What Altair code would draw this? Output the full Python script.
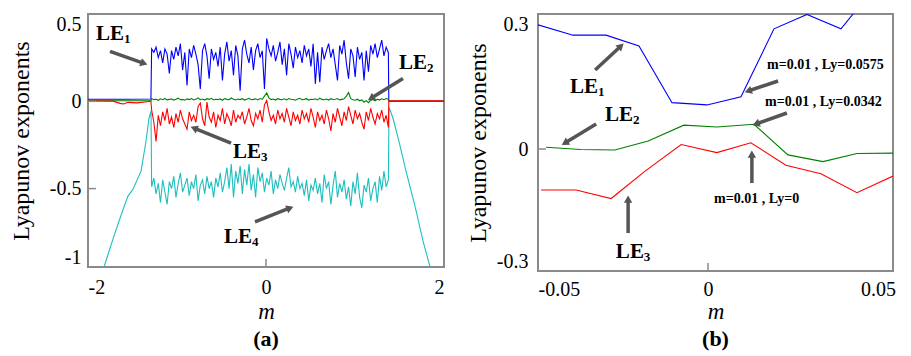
import math
import altair as alt
import numpy as np
import pandas as pd

FONT = "Liberation Serif, Times New Roman, serif"
ARROW = "#555555"
FRAME = "#8a8a8a"

# ------------------------------------------------------------------
# Panel (a): Lyapunov exponents vs m in [-2, 2]
# ------------------------------------------------------------------
CHAOS_START, CHAOS_END = -1.285, 1.375

le1_left_m = [-2.0, -1.6, -1.293]
le1_left_v = [0.012, 0.012, 0.013]
le1_chaos = [
    0.30, 0.28, 0.31, 0.25, 0.29, 0.22, 0.30, 0.27, 0.16, 0.29,
    0.24, 0.31, 0.26, 0.33, 0.18, 0.28, 0.09, 0.30, 0.25, 0.32,
    0.27, 0.21, 0.07, 0.29, 0.33, 0.26, 0.13, 0.30, 0.24, 0.28,
    0.20, 0.31, 0.12, 0.27, 0.34, 0.23, 0.29, 0.15, 0.32, 0.26,
    0.06, 0.30, 0.35, 0.27, 0.22, 0.31, 0.18, 0.29, 0.33, 0.25,
    0.29, 0.07, 0.36, 0.30, 0.26, 0.32, 0.23, 0.28, 0.34, 0.21,
    0.30, 0.15, 0.33, 0.27, 0.19, 0.31, 0.25, 0.29, 0.22, 0.32,
    0.26, 0.30, 0.20, 0.33, 0.10, 0.28, 0.11, 0.31, 0.24, 0.29,
    0.33, 0.25, 0.30, 0.21, 0.12, 0.32, 0.27, 0.35, 0.22, 0.13,
    0.30, 0.26, 0.14, 0.31, 0.24, 0.28, 0.12, 0.29, 0.17, 0.32,
    0.27, 0.33, 0.25, 0.30, 0.35, 0.26, 0.31, 0.28,
]
le1_right_m = [1.380, 2.0]
le1_right_v = [0.0, 0.0]

le2_left_m = [-2.0, -1.293]
le2_left_v = [0.003, 0.004]
le2_chaos = [
    0.015, 0.010, 0.012, 0.006, 0.014, 0.009, 0.016, 0.008, 0.011, 0.013,
    0.007, 0.012, 0.018, 0.009, 0.011, 0.006, 0.014, 0.010, 0.016, 0.008,
    0.012, 0.020, 0.009, 0.013, 0.007, 0.015, 0.011, 0.017, 0.008, 0.012,
    0.010, 0.014, 0.006, 0.016, 0.011, 0.009, 0.019, 0.012, 0.008, 0.013,
    0.010, 0.015, 0.007, 0.012, 0.017, 0.009, 0.011, 0.014, 0.008, 0.016,
    0.012, 0.030, 0.048, 0.020, 0.010, 0.013, 0.007, 0.015, 0.011, 0.009,
    0.014, 0.008, 0.016, 0.012, 0.010, 0.006, 0.013, 0.017, 0.009, 0.011,
    0.015, 0.007, 0.012, 0.010, 0.014, 0.008, 0.018, 0.011, 0.009, 0.013,
    0.007, 0.015, 0.010, 0.012, 0.016, 0.008, 0.011, 0.014, 0.030, 0.050,
    0.015, 0.009, 0.006, 0.012, 0.003, 0.008, -0.005, 0.004, -0.008, 0.006,
    0.010, 0.002, 0.012, 0.007, 0.014, 0.009, 0.016, 0.012,
]
le2_right_m = [1.380, 2.0]
le2_right_v = [0.002, 0.002]

le3_left_m = [-2.0, -1.72, -1.64, -1.60, -1.55, -1.45, -1.36, -1.293]
le3_left_v = [0.002, 0.001, -0.012, -0.015, -0.006, -0.009, -0.004, 0.0]
le3_chaos = [
    -0.05, -0.12, -0.23, -0.08, -0.14, -0.06, -0.11, -0.04, -0.13, -0.09,
    -0.15, -0.07, -0.12, -0.05, -0.10, -0.13, -0.16, -0.06, -0.11, -0.08,
    -0.12, -0.03, -0.01, -0.10, -0.14, -0.005, -0.09, -0.12, -0.06, -0.15,
    -0.08, -0.11, -0.04, -0.13, -0.07, -0.10, -0.14, -0.05, -0.12, -0.08,
    -0.10, -0.06, -0.13, -0.09, -0.04, -0.11, -0.14, -0.07, -0.10, -0.05,
    -0.12, -0.02, 0.005, -0.06, -0.11, -0.08, -0.13, -0.05, -0.10, -0.07,
    -0.12, -0.04, -0.09, -0.14, -0.06, -0.11, -0.08, -0.13, -0.05, -0.10,
    -0.07, -0.12, -0.04, -0.09, -0.15, -0.06, -0.11, -0.08, -0.13, -0.05,
    -0.10, -0.17, -0.07, -0.12, -0.04, -0.09, -0.14, -0.06, -0.11, -0.03,
    -0.08, -0.13, -0.05, -0.10, -0.07, -0.12, -0.16, -0.06, -0.11, -0.04,
    -0.09, -0.13, -0.07, -0.10, -0.05, -0.12, -0.08, -0.15,
]
le3_right_m = [1.380, 2.0]
le3_right_v = [0.003, 0.003]

le4_left_m = [-1.82, -1.708, -1.62, -1.551, -1.494, -1.404, -1.348, -1.315, -1.292]
le4_left_v = [-0.949, -0.771, -0.64, -0.543, -0.503, -0.40, -0.229, -0.097, -0.057]
le4_chaos = [
    -0.49, -0.44, -0.53, -0.47, -0.58, -0.45, -0.52, -0.59, -0.46, -0.50,
    -0.43, -0.55, -0.47, -0.41, -0.52, -0.48, -0.44, -0.54, -0.46, -0.50,
    -0.42, -0.57, -0.48, -0.45, -0.53, -0.43, -0.50, -0.46, -0.55, -0.44,
    -0.49, -0.41, -0.52, -0.46, -0.38, -0.50, -0.36, -0.55, -0.40, -0.47,
    -0.37, -0.53, -0.39, -0.48, -0.36, -0.51, -0.42, -0.55, -0.38, -0.46,
    -0.41, -0.52, -0.44, -0.48, -0.40, -0.53, -0.45, -0.50, -0.42, -0.47,
    -0.51, -0.44, -0.38, -0.49, -0.46, -0.52, -0.43, -0.50, -0.47, -0.54,
    -0.45, -0.57, -0.48, -0.51, -0.44, -0.53, -0.47, -0.58, -0.42, -0.50,
    -0.46, -0.59, -0.48, -0.40, -0.55, -0.47, -0.52, -0.45, -0.56, -0.49,
    -0.60, -0.46, -0.53, -0.41, -0.55, -0.61, -0.48, -0.52, -0.44, -0.57,
    -0.50, -0.46, -0.58, -0.43, -0.51, -0.40, -0.49, -0.45,
]
le4_right_m = [1.382, 1.427, 1.494, 1.573, 1.674, 1.764, 1.843]
le4_right_v = [-0.034, -0.097, -0.229, -0.40, -0.60, -0.80, -0.949]

# ------------------------------------------------------------------
# Panel (b): zoom m in [-0.05, 0.05]
# ------------------------------------------------------------------
b_le1_m = [-0.0500, -0.0397, -0.0300, -0.0203, -0.0106, -0.0003, 0.0097, 0.0194, 0.0291, 0.0391, 0.0491]
b_le1_v = [0.276, 0.253, 0.253, 0.229, 0.103, 0.098, 0.116, 0.267, 0.299, 0.267, 0.360]
b_le2_m = [-0.0476, -0.0374, -0.0274, -0.0176, -0.0071, 0.0026, 0.0135, 0.0235, 0.0338, 0.0438, 0.0544]
b_le2_v = [0.004, -0.001, -0.002, 0.018, 0.053, 0.049, 0.055, -0.013, -0.028, -0.010, -0.009]
b_le3_m = [-0.0491, -0.0388, -0.0285, -0.0185, -0.0079, 0.0026, 0.0126, 0.0229, 0.0332, 0.0438, 0.0544]
b_le3_v = [-0.091, -0.091, -0.110, -0.049, 0.010, -0.008, 0.014, -0.036, -0.055, -0.097, -0.060]

# annotations (label anchor = left/baseline) and arrows (start -> head)
a_label_m = [-1.910, 1.494, -0.371, -0.472]
a_label_v = [0.349, 0.183, -0.326, -0.811]
a_label_sub = ["1", "2", "3", "4"]
a_arrow = [  # m, v, m2, v2
    (-1.753, 0.286, -1.371, 0.217),
    (1.539, 0.131, 1.180, 0.017),
    (-0.393, -0.240, -0.809, -0.154),
    (-0.124, -0.691, 0.270, -0.611),
]

b_label_m = [-0.0406, -0.0303, -0.0271]
b_label_v = [0.1244, 0.0622, -0.2422]
b_label_sub = ["1", "2", "3"]
b_note_m = [0.01735, 0.01676, 0.00176]
b_note_v = [0.178, 0.0956, -0.120]
b_note_text = ["m=0.01 , Ly=0.0575", "m=0.01 , Ly=0.0342", "m=0.01 , Ly=0"]
b_arrow = [
    (-0.0332, 0.1756, -0.0256, 0.2289),
    (-0.0329, 0.0556, -0.0421, 0.0133),
    (0.0206, 0.1511, 0.0118, 0.1289),
    (0.0232, 0.0800, 0.0141, 0.0556),
    (0.0129, -0.0756, 0.0129, -0.0111),
    (-0.0235, -0.1867, -0.0235, -0.1111),
]

# ------------------------------------------------------------------
WA, HA = 356, 253
WB, HB = 355, 257
A_X = (-2.0, 2.0)
A_Y = (-0.949, 0.5)
B_X = (-0.05, 0.0544)
B_Y = (-0.271, 0.3)


def series_a(left_m, left_v, chaos, right_m, right_v):
    cm = np.linspace(CHAOS_START, CHAOS_END, len(chaos))
    return pd.DataFrame({
        "m": list(left_m) + list(cm) + list(right_m),
        "v": list(left_v) + list(chaos) + list(right_v),
    })


class Axes:
    def __init__(self, dom_x, dom_y, xvals, xexpr, yvals, yexpr, extent,
                 xlabpad, xtitlepad, ylabpad):
        self.xs = alt.Scale(domain=list(dom_x), nice=False, zero=False)
        self.ys = alt.Scale(domain=list(dom_y), nice=False, zero=False)
        common = dict(labelFont=FONT, titleFont=FONT, labelColor="black", titleColor="black",
                      labelFontSize=20, domain=False, ticks=False, grid=False)
        self.xax = alt.Axis(values=xvals, labelExpr=xexpr, labelPadding=xlabpad,
                            title="m", titleFontStyle="italic", titleFontWeight="normal",
                            titleFontSize=23, titlePadding=xtitlepad, **common)
        self.yax = alt.Axis(values=yvals, labelExpr=yexpr, labelPadding=ylabpad,
                            labelFlush=True, minExtent=extent, maxExtent=extent,
                            title="Lyapunov exponents", titleFontWeight="normal",
                            titleFontSize=24, titlePadding=0, **common)

    def x(self, field="m"):
        return alt.X(f"{field}:Q", scale=self.xs, axis=self.xax)

    def y(self, field="v"):
        return alt.Y(f"{field}:Q", scale=self.ys, axis=self.yax)


def arrows(rows, sx, sy, ax):
    recs = []
    for m, v, m2, v2 in rows:
        dx = (m2 - m) * sx
        dy = -(v2 - v) * sy
        ang = math.degrees(math.atan2(dx, -dy)) % 360
        recs.append({"m": m, "v": v, "m2": m2, "v2": v2, "ang": ang})
    df = pd.DataFrame(recs)
    shaft = alt.Chart(df).mark_rule(color=ARROW, strokeWidth=3.5).encode(
        x=ax.x(), y=ax.y(), x2="m2:Q", y2="v2:Q")
    head = alt.Chart(df).mark_point(shape="triangle-up", filled=True, size=70,
                                   color=ARROW, opacity=1).encode(
        x=ax.x("m2"), y=ax.y("v2"), angle=alt.Angle("ang:Q", scale=None))
    return [shaft, head]


def le_labels(ms, vs, subs, ax):
    df = pd.DataFrame({"m": ms, "v": vs, "sub": subs, "main": ["LE"] * len(ms)})
    main = alt.Chart(df).mark_text(font=FONT, fontSize=21, fontWeight="bold", align="left",
                                   baseline="alphabetic", color="black").encode(
        x=ax.x(), y=ax.y(), text="main:N")
    sub = alt.Chart(df).mark_text(font=FONT, fontSize=13, fontWeight="bold", align="left",
                                  baseline="alphabetic", dx=28, dy=3, color="black").encode(
        x=ax.x(), y=ax.y(), text="sub:N")
    return [main, sub]


def ln(df, color, ax):
    return alt.Chart(df).mark_line(color=color, strokeWidth=1.1, clip=True).encode(x=ax.x(), y=ax.y())


def panel_title(txt):
    return alt.TitleParams(txt, orient="bottom", fontSize=22, fontWeight="bold", color="black",
                           frame="group", anchor="middle", offset=6, font=FONT)


# ---------------- Panel (a) ----------------
axa = Axes(A_X, A_Y, [-2, 0, 2],
           "datum.value == 0 ? '0' : (datum.value < 0 ? '-2' : '2')",
           [-0.949, -0.5, 0, 0.5],
           "datum.value < -0.9 ? '-1' : (datum.value < -0.4 ? '-0.5' : (datum.value > 0.4 ? '0.5' : '0'))",
           55, 10, 3, 7)

df1 = series_a(le1_left_m, le1_left_v, le1_chaos, le1_right_m, le1_right_v)
df2 = series_a(le2_left_m, le2_left_v, le2_chaos, le2_right_m, le2_right_v)
df3 = series_a(le3_left_m, le3_left_v, le3_chaos, le3_right_m, le3_right_v)
df4 = series_a(le4_left_m, le4_left_v, le4_chaos, le4_right_m, le4_right_v)

ticks_ax = alt.Chart(pd.DataFrame({"m": [0.0]})).mark_rule(color=FRAME, strokeWidth=1.5).encode(
    x=axa.x(), y=alt.value(HA), y2=alt.value(HA - 8))
ticks_ay = alt.Chart(pd.DataFrame({"v": [-0.5, 0.0]})).mark_rule(color=FRAME, strokeWidth=1.5).encode(
    y=axa.y(), x=alt.value(0), x2=alt.value(8))

panel_a = alt.layer(
    ln(df4, "#1fbfbf", axa),
    ln(df1, "#0000ff", axa),
    ln(df2, "#008000", axa),
    ln(df3, "#ff0000", axa),
    ticks_ax, ticks_ay,
    *arrows(a_arrow, WA / 4.0, HA / (A_Y[1] - A_Y[0]), axa),
    *le_labels(a_label_m, a_label_v, a_label_sub, axa),
).properties(width=WA, height=HA, title=panel_title("(a)"))

# ---------------- Panel (b) ----------------
axb = Axes(B_X, B_Y, [-0.05, 0, 0.05],
           "datum.value == 0 ? '0' : (datum.value < 0 ? '-0.05' : '0.05')",
           [-0.271, 0, 0.3],
           "datum.value < -0.2 ? '-0.3' : (datum.value > 0.2 ? '0.3' : '0')",
           48, 8, 1, 10)

db1 = pd.DataFrame({"m": b_le1_m, "v": b_le1_v})
db2 = pd.DataFrame({"m": b_le2_m, "v": b_le2_v})
db3 = pd.DataFrame({"m": b_le3_m, "v": b_le3_v})

ticks_bx = alt.Chart(pd.DataFrame({"m": [0.0]})).mark_rule(color=FRAME, strokeWidth=1.5).encode(
    x=axb.x(), y=alt.value(HB), y2=alt.value(HB - 8))
ticks_by = alt.Chart(pd.DataFrame({"v": [0.0]})).mark_rule(color=FRAME, strokeWidth=1.5).encode(
    y=axb.y(), x=alt.value(0), x2=alt.value(8))

notes = alt.Chart(pd.DataFrame({"m": b_note_m, "v": b_note_v, "t": b_note_text})).mark_text(
    font=FONT, fontSize=14, fontWeight="bold", align="left", baseline="alphabetic", color="black"
).encode(x=axb.x(), y=axb.y(), text="t:N")

panel_b = alt.layer(
    ln(db1, "#0000ff", axb),
    ln(db2, "#008000", axb),
    ln(db3, "#ff0000", axb),
    ticks_bx, ticks_by,
    *arrows(b_arrow, WB / (B_X[1] - B_X[0]), HB / (B_Y[1] - B_Y[0]), axb),
    *le_labels(b_label_m, b_label_v, b_label_sub, axb),
    notes,
).properties(width=WB, height=HB, title=panel_title("(b)"))

chart = alt.hconcat(panel_a, panel_b, spacing=20).properties(
    padding={"left": 0, "top": 5, "right": 5, "bottom": 5}
).configure_view(
    stroke=FRAME, strokeWidth=2
).configure_axis(
    labelFont=FONT, titleFont=FONT, labelColor="black", titleColor="black",
    domain=False, ticks=False, grid=False,
).configure_title(font=FONT, color="black")

chart.save("out.html", embed_options={"renderer": "svg", "actions": False})
